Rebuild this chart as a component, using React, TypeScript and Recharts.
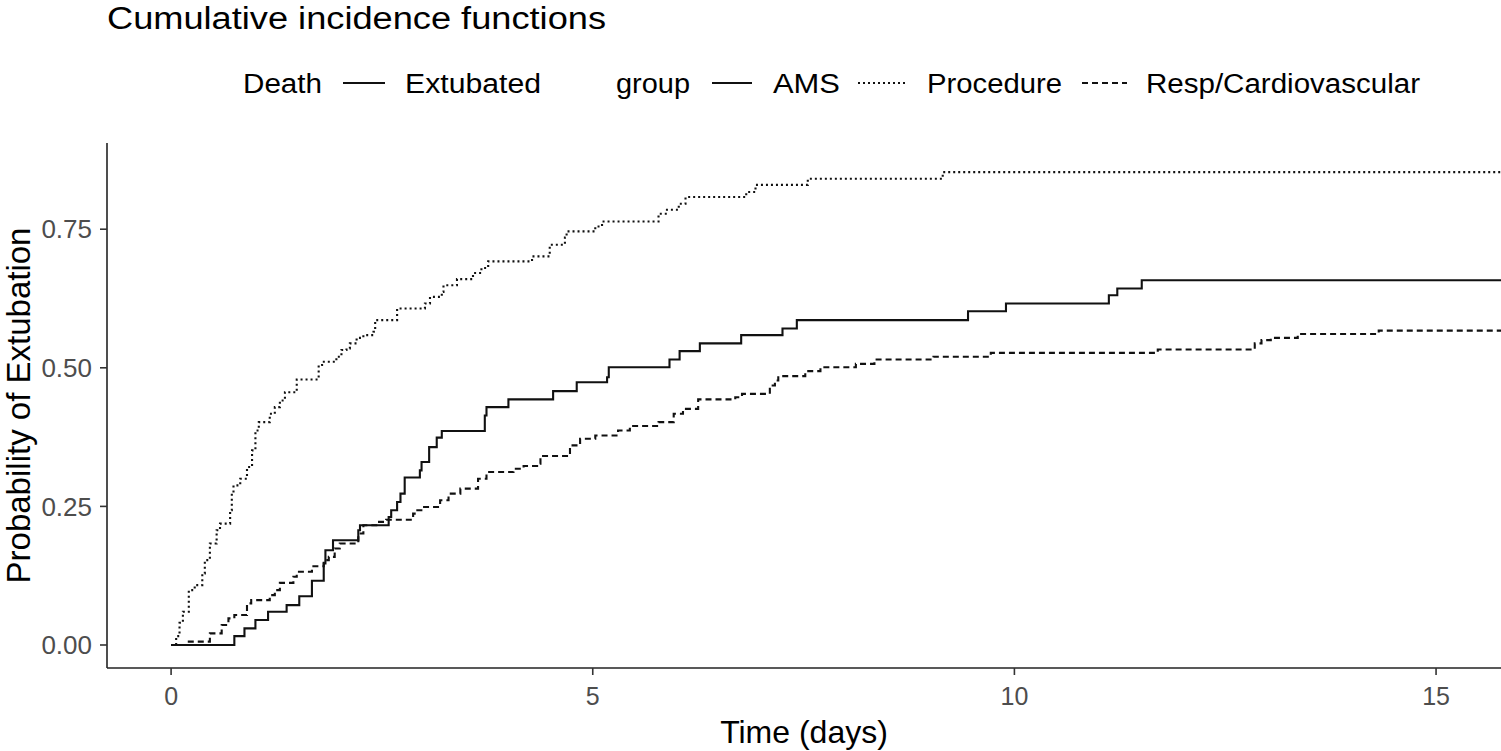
import React from 'react';
import { LineChart, Line, XAxis, YAxis, Label } from 'recharts';

const FONT = '"Liberation Sans", Arial, Helvetica, sans-serif';

// Tick labels
const xTicks = [0, 5, 10, 15];
const yTicks = [0, 0.25, 0.5, 0.75];

// AMS (solid)
const amsTimes = [0, 0.75, 0.87, 1.0, 1.15, 1.37, 1.52, 1.67, 1.81, 1.83, 1.92, 2.22, 2.24, 2.58, 2.61, 2.68, 2.72, 2.77, 2.95, 2.97, 3.06, 3.15, 3.21, 3.72, 3.74, 4.0, 4.53, 4.81, 5.17, 5.19, 5.91, 6.03, 6.27, 6.76, 7.25, 7.42, 9.45, 9.9, 11.12, 11.22, 11.51, 15.77];
const amsValues = [0, 0.016, 0.03, 0.045, 0.06, 0.072, 0.088, 0.116, 0.147, 0.171, 0.189, 0.207, 0.216, 0.231, 0.243, 0.258, 0.273, 0.302, 0.315, 0.33, 0.357, 0.374, 0.386, 0.414, 0.429, 0.443, 0.458, 0.474, 0.483, 0.501, 0.515, 0.53, 0.544, 0.559, 0.571, 0.586, 0.602, 0.616, 0.631, 0.643, 0.658, 0.658];

// Procedure (dotted)
const procTimes = [0, 0.06, 0.1, 0.14, 0.21, 0.28, 0.37, 0.4, 0.46, 0.54, 0.58, 0.7, 0.72, 0.74, 0.82, 0.9, 0.96, 1.0, 1.04, 1.17, 1.23, 1.29, 1.35, 1.49, 1.75, 1.79, 1.96, 2.02, 2.08, 2.12, 2.2, 2.28, 2.4, 2.42, 2.68, 3.01, 3.07, 3.21, 3.23, 3.39, 3.58, 3.68, 3.76, 4.28, 4.49, 4.67, 4.69, 5.03, 5.11, 5.78, 5.88, 6.02, 6.1, 6.82, 6.93, 7.55, 9.15, 15.77];
const procValues = [0, 0.016, 0.04, 0.06, 0.099, 0.108, 0.129, 0.153, 0.183, 0.207, 0.219, 0.243, 0.273, 0.288, 0.3, 0.321, 0.351, 0.387, 0.402, 0.417, 0.429, 0.441, 0.456, 0.479, 0.505, 0.511, 0.52, 0.532, 0.535, 0.544, 0.554, 0.559, 0.565, 0.586, 0.607, 0.616, 0.628, 0.637, 0.649, 0.66, 0.671, 0.68, 0.692, 0.701, 0.722, 0.735, 0.746, 0.755, 0.764, 0.778, 0.785, 0.796, 0.808, 0.817, 0.83, 0.841, 0.853, 0.853];

// Resp/Cardiovascular (dashed)
const respTimes = [0, 0.19, 0.46, 0.6, 0.68, 0.75, 0.9, 0.95, 1.17, 1.23, 1.29, 1.45, 1.49, 1.67, 1.81, 1.87, 1.94, 2.0, 2.22, 2.28, 2.45, 2.55, 2.87, 2.92, 2.98, 3.19, 3.29, 3.43, 3.64, 3.74, 4.06, 4.18, 4.34, 4.38, 4.73, 4.85, 5.03, 5.3, 5.44, 5.78, 5.96, 6.07, 6.25, 6.69, 6.77, 7.1, 7.16, 7.2, 7.52, 7.7, 8.12, 8.34, 9.04, 9.72, 11.7, 12.85, 12.93, 13.04, 13.36, 14.32, 15.77];
const respValues = [0, 0.006, 0.021, 0.036, 0.048, 0.054, 0.075, 0.081, 0.09, 0.099, 0.112, 0.123, 0.132, 0.142, 0.153, 0.159, 0.174, 0.183, 0.201, 0.216, 0.222, 0.226, 0.237, 0.243, 0.249, 0.261, 0.273, 0.282, 0.3, 0.312, 0.318, 0.323, 0.327, 0.341, 0.36, 0.372, 0.378, 0.387, 0.395, 0.402, 0.417, 0.426, 0.443, 0.447, 0.453, 0.468, 0.477, 0.485, 0.494, 0.501, 0.507, 0.515, 0.52, 0.527, 0.533, 0.544, 0.55, 0.554, 0.561, 0.567, 0.567];

const toSeries = (ts: number[], vs: number[]) => ts.map((t, i) => ({ t, p: vs[i] }));
const amsData = toSeries(amsTimes, amsValues);
const procData = toSeries(procTimes, procValues);
const respData = toSeries(respTimes, respValues);

const LINE_COLOR = '#111';
const LW = 2.1;
const DOTTED = '2 3';
const DASHED = '6 4';

export default function App() {
  return (
    <div style={{ position: 'absolute', left: 0, top: 0, width: 1501, height: 751, background: '#fff', fontFamily: FONT }}>
      <LineChart
        width={1501}
        height={751}
        margin={{ top: 143, right: 0, bottom: 0, left: 0 }}
        style={{ position: 'absolute', left: 0, top: 0 }}
      >
        <XAxis
          type="number"
          dataKey="t"
          domain={[-0.76, 15.77]}
          ticks={xTicks}
          allowDataOverflow
          height={83}
          tickSize={7}
          tickMargin={12}
          tick={{ fontSize: 25, fill: '#4d4d4d', fontFamily: FONT }}
          axisLine={{ stroke: '#222', strokeWidth: 1.6 }}
          tickLine={{ stroke: '#333', strokeWidth: 1.6 }}
        >
          <Label value="Time (days)" position="insideBottom" offset={8} style={{ fontSize: 32, fill: '#000', fontFamily: FONT }} />
        </XAxis>
        <YAxis
          type="number"
          domain={[-0.0415, 0.9055]}
          ticks={yTicks}
          allowDataOverflow
          tickFormatter={(v: number) => v.toFixed(2)}
          width={107}
          tickSize={7}
          tickMargin={8}
          tick={{ fontSize: 26, fill: '#4d4d4d', fontFamily: FONT }}
          axisLine={{ stroke: '#222', strokeWidth: 1.6 }}
          tickLine={{ stroke: '#333', strokeWidth: 1.6 }}
        >
          <Label value="Probability of Extubation" angle={-90} position="insideLeft" offset={18} style={{ textAnchor: 'middle', fontSize: 33, fill: '#000', fontFamily: FONT }} />
        </YAxis>
        <Line data={procData} dataKey="p" type="stepAfter" stroke={LINE_COLOR} strokeWidth={LW} strokeDasharray={DOTTED} dot={false} activeDot={false} isAnimationActive={false} />
        <Line data={respData} dataKey="p" type="stepAfter" stroke={LINE_COLOR} strokeWidth={LW} strokeDasharray={DASHED} dot={false} activeDot={false} isAnimationActive={false} />
        <Line data={amsData} dataKey="p" type="stepAfter" stroke={LINE_COLOR} strokeWidth={LW} dot={false} activeDot={false} isAnimationActive={false} />
      </LineChart>
      <svg width={1501} height={120} style={{ position: 'absolute', left: 0, top: 0, pointerEvents: 'none' }}>
        <text x={107} y={29} fontSize={31} fill="#000" fontFamily={FONT} textLength={499} lengthAdjust="spacingAndGlyphs">Cumulative incidence functions</text>
        <g fontSize={27} fill="#000" fontFamily={FONT}>
          <text x={243} y={93} textLength={79} lengthAdjust="spacingAndGlyphs">Death</text>
          <line x1={343} x2={385} y1={83} y2={83} stroke={LINE_COLOR} strokeWidth={LW} />
          <text x={405} y={93} textLength={136} lengthAdjust="spacingAndGlyphs">Extubated</text>
          <text x={616} y={93} textLength={74} lengthAdjust="spacingAndGlyphs">group</text>
          <line x1={712} x2={752} y1={83} y2={83} stroke={LINE_COLOR} strokeWidth={LW} />
          <text x={773} y={93} textLength={67} lengthAdjust="spacingAndGlyphs">AMS</text>
          <line x1={858} x2={905} y1={83} y2={83} stroke={LINE_COLOR} strokeWidth={LW} strokeDasharray={DOTTED} />
          <text x={927} y={93} textLength={135} lengthAdjust="spacingAndGlyphs">Procedure</text>
          <line x1={1082} x2={1127} y1={83} y2={83} stroke={LINE_COLOR} strokeWidth={LW} strokeDasharray={DASHED} />
          <text x={1146} y={93} textLength={274} lengthAdjust="spacingAndGlyphs">Resp/Cardiovascular</text>
        </g>
      </svg>
    </div>
  );
}
